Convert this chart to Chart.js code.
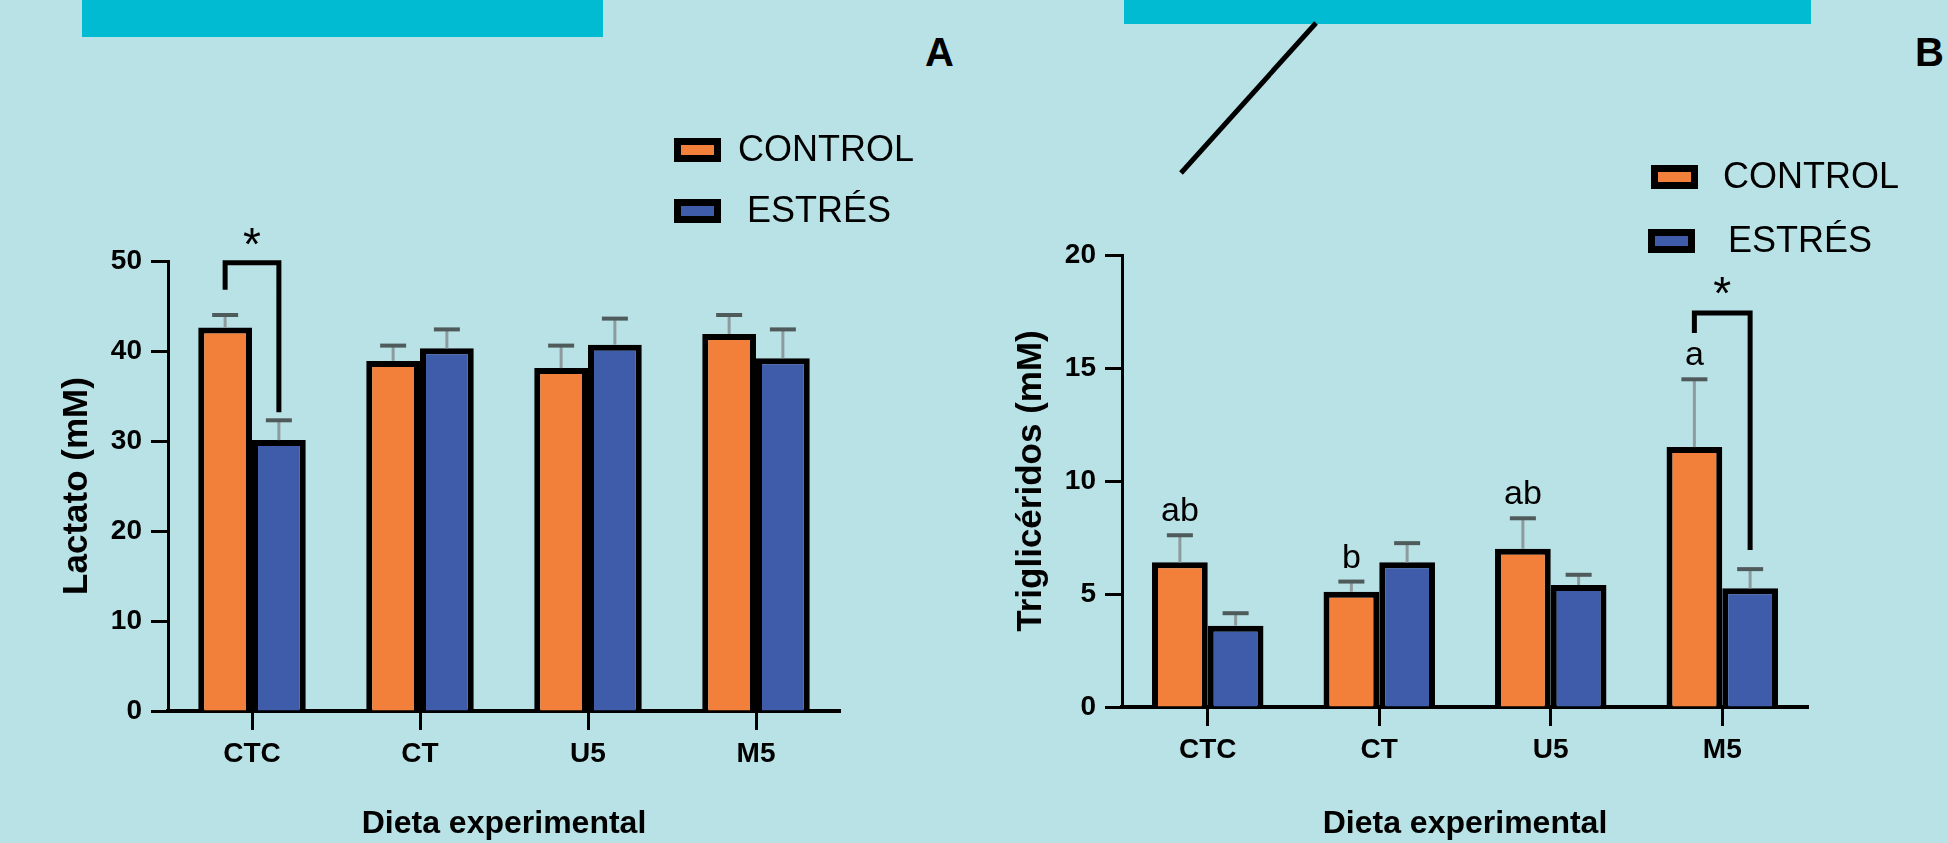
<!DOCTYPE html>
<html>
<head>
<meta charset="utf-8">
<script src="https://cdn.jsdelivr.net/npm/chart.js@4.4.1/dist/chart.umd.min.js"></script>
<style>
html, body { margin: 0; padding: 0; background: #b9e2e6; }
body { width: 1948px; height: 843px; position: relative; overflow: hidden; font-family: 'Liberation Sans', Arial, sans-serif; }
.band { position: absolute; top: 0; background: #00bbd2; }
.panel { position: absolute; top: 32px; font: bold 40px 'Liberation Sans', Arial, sans-serif; line-height: 40px; color: #000; }
#wrapA { position: absolute; left: 0; top: 0; }
#wrapB { position: absolute; left: 970px; top: 0; }
svg { position: absolute; left: 0; top: 0; }
</style>
</head>
<body>
<div class="band" style="left:82px;width:521px;height:37px"></div>
<div class="band" style="left:1124px;width:687px;height:24px"></div>
<svg width="1948" height="843"><line x1="1316" y1="23" x2="1181" y2="173" stroke="#000" stroke-width="5"/></svg>
<div class="panel" style="left:925px">A</div>
<div class="panel" style="left:1915px">B</div>
<div id="wrapA"><canvas id="chartA" width="970" height="843"></canvas></div>
<div id="wrapB"><canvas id="chartB" width="978" height="843"></canvas></div>

<script>
const categories = ['CTC', 'CT', 'U5', 'M5'];

// Panel A - Lactato (mM)
const lactatoControl = [42.6, 38.9, 38.1, 41.9];
const lactatoControlErr = [1.4, 1.7, 2.5, 2.1];
const lactatoEstres = [30.1, 40.3, 40.7, 39.2];
const lactatoEstresErr = [2.2, 2.1, 2.9, 3.2];

// Panel B - Triglicéridos (mM)
const trigControl = [6.4, 5.1, 7.0, 11.5];
const trigControlErr = [1.2, 0.45, 1.35, 3.0];
const trigEstres = [3.6, 6.4, 5.4, 5.25];
const trigEstresErr = [0.55, 0.85, 0.45, 0.85];
const trigLetters = ['ab', 'b', 'ab', 'a'];

const FONT = "'Liberation Sans', Arial, sans-serif";
const ORANGE = '#f3803a';
const BLUE = '#3e5ca9';

// upper error bars + letters over the bars
const errorBars = {
    id: 'errorBars',
    afterDatasetsDraw(chart) {
        const ctx = chart.ctx;
        const y = chart.scales.y;
        chart.data.datasets.forEach((ds, i) => {
            const meta = chart.getDatasetMeta(i);
            meta.data.forEach((bar, j) => {
                const top = y.getPixelForValue(ds.data[j] + ds.errors[j]);
                ctx.save();
                ctx.strokeStyle = '#8d9b9d';
                ctx.lineWidth = 3;
                ctx.beginPath();
                ctx.moveTo(bar.x, bar.y);
                ctx.lineTo(bar.x, top);
                ctx.stroke();
                ctx.strokeStyle = '#4f5a5a';
                ctx.lineWidth = 4;
                ctx.beginPath();
                ctx.moveTo(bar.x - 13, top);
                ctx.lineTo(bar.x + 13, top);
                ctx.stroke();
                if (ds.letters) {
                    ctx.fillStyle = '#000';
                    ctx.font = '34px ' + FONT;
                    ctx.textAlign = 'center';
                    ctx.textBaseline = 'alphabetic';
                    ctx.fillText(ds.letters[j], bar.x, top - 14);
                }
                ctx.restore();
            });
        });
    }
};

// significance bracket with the star
const sigBracket = {
    id: 'sigBracket',
    afterDatasetsDraw(chart, args, opts) {
        if (!opts || opts.index === undefined) return;
        const ctx = chart.ctx;
        const y = chart.scales.y;
        const left = chart.getDatasetMeta(0).data[opts.index].x;
        const right = chart.getDatasetMeta(1).data[opts.index].x;
        ctx.save();
        ctx.strokeStyle = '#000';
        ctx.lineWidth = 5;
        ctx.lineJoin = 'miter';
        ctx.beginPath();
        ctx.moveTo(left, y.getPixelForValue(opts.leftEnd));
        ctx.lineTo(left, y.getPixelForValue(opts.top));
        ctx.lineTo(right, y.getPixelForValue(opts.top));
        ctx.lineTo(right, y.getPixelForValue(opts.rightEnd));
        ctx.stroke();
        ctx.fillStyle = '#000';
        ctx.font = '46px ' + FONT;
        ctx.textAlign = 'center';
        ctx.textBaseline = 'alphabetic';
        ctx.fillText('*', (left + right) / 2, y.getPixelForValue(opts.star) + 27);
        ctx.restore();
    }
};

// legend with black-framed swatches
const boxLegend = {
    id: 'boxLegend',
    afterDraw(chart, args, opts) {
        const ctx = chart.ctx;
        chart.data.datasets.forEach((ds, i) => {
            const r = opts.rows[i];
            ctx.save();
            ctx.fillStyle = '#000';
            ctx.fillRect(r.x, r.y, 47, 24);
            ctx.fillStyle = ds.backgroundColor;
            ctx.fillRect(r.x + 7, r.y + 7, 33, 10);
            ctx.fillStyle = '#000';
            ctx.font = '36px ' + FONT;
            ctx.textAlign = 'left';
            ctx.textBaseline = 'middle';
            ctx.fillText(ds.label, r.tx, r.y + 13);
            ctx.restore();
        });
    }
};

function buildChart(id, cfg) {
    return new Chart(document.getElementById(id), {
        type: 'bar',
        data: {
            labels: categories,
            datasets: [
                {
                    label: 'CONTROL', data: cfg.control, errors: cfg.controlErr, letters: cfg.letters,
                    backgroundColor: ORANGE, borderColor: '#000', borderWidth: 6,
                    categoryPercentage: cfg.catPct, barPercentage: 1
                },
                {
                    label: 'ESTRÉS', data: cfg.estres, errors: cfg.estresErr,
                    backgroundColor: BLUE, borderColor: '#000', borderWidth: 6,
                    categoryPercentage: cfg.catPct, barPercentage: 1
                }
            ]
        },
        options: {
            responsive: false,
            animation: false,
            layout: { padding: { left: 0, top: cfg.padTop, right: cfg.padRight, bottom: 0 } },
            scales: {
                x: {
                    grid: { drawOnChartArea: false, offset: false, tickLength: 19, tickColor: '#000', tickWidth: 3 },
                    border: { color: '#000', width: 4 },
                    ticks: { color: '#000', padding: 7, font: { family: FONT, size: 28, weight: 'bold' } },
                    title: {
                        display: true, text: 'Dieta experimental', color: '#000',
                        font: { family: FONT, size: 32, weight: 'bold', lineHeight: 1 },
                        padding: { top: 0, bottom: 3 }
                    },
                    afterFit: s => { s.height = cfg.xAxisH; }
                },
                y: {
                    min: 0, max: cfg.max,
                    grid: { drawOnChartArea: false, tickLength: 17, tickColor: '#000', tickWidth: 3 },
                    border: { color: '#000', width: 3 },
                    ticks: { stepSize: cfg.step, color: '#000', padding: 9, font: { family: FONT, size: 28, weight: 'bold' } },
                    title: {
                        display: true, text: cfg.yTitle, color: '#000',
                        font: { family: FONT, size: 35, weight: 'bold', lineHeight: 1 },
                        padding: { top: cfg.yTitlePad, bottom: 0 }
                    },
                    afterFit: s => { s.width = cfg.yAxisW; }
                }
            },
            plugins: {
                legend: { display: false },
                tooltip: { enabled: false },
                sigBracket: cfg.bracket,
                boxLegend: { rows: cfg.legendRows }
            }
        },
        plugins: [errorBars, sigBracket, boxLegend]
    });
}

buildChart('chartA', {
    control: lactatoControl, controlErr: lactatoControlErr,
    estres: lactatoEstres, estresErr: lactatoEstresErr,
    max: 50, step: 10, yTitle: 'Lactato (mM)', yTitlePad: 60,
    catPct: 0.64, padTop: 261, padRight: 130, yAxisW: 168, xAxisH: 132,
    bracket: { index: 0, top: 49.8, leftEnd: 46.8, rightEnd: 33.2, star: 53.1 },
    legendRows: [{ x: 674, y: 138, tx: 738 }, { x: 674, y: 199, tx: 747 }]
});

buildChart('chartB', {
    control: trigControl, controlErr: trigControlErr, letters: trigLetters,
    estres: trigEstres, estresErr: trigEstresErr,
    max: 20, step: 5, yTitle: 'Triglicéridos (mM)', yTitlePad: 44,
    catPct: 0.65, padTop: 255, padRight: 140, yAxisW: 152, xAxisH: 136,
    bracket: { index: 3, top: 17.43, leftEnd: 16.55, rightEnd: 6.95, star: 18.8 },
    legendRows: [{ x: 681, y: 165, tx: 753 }, { x: 678, y: 229, tx: 758 }]
});
</script>
</body>
</html>
